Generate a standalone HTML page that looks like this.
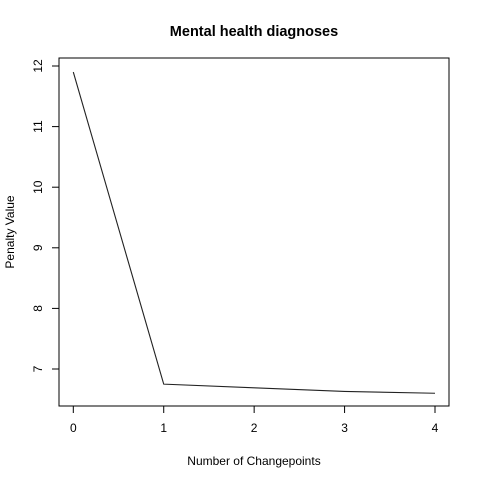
<!DOCTYPE html>
<html><head><meta charset="utf-8"><style>
body{margin:0;background:#fff}
svg{font-family:"Liberation Sans",Arial,sans-serif}
</style></head><body>
<svg id="chart" width="480" height="480" xmlns="http://www.w3.org/2000/svg">
<rect width="480" height="480" fill="#fff"/>
<text x="254" y="36" text-anchor="middle" font-size="14.5" font-weight="bold">Mental health diagnoses</text>
<text x="254" y="465" text-anchor="middle" font-size="12">Number of Changepoints</text>
<text transform="translate(14,232) rotate(-90)" text-anchor="middle" font-size="12">Penalty Value</text>
<rect x="59" y="58" width="390" height="348" fill="none" stroke="#000" stroke-width="1"/>
<g id="xaxis"></g>
<g id="yaxis"></g>
<g id="series"></g>
</svg>
<script>
const xValues=[0,1,2,3,4];
const yValues=[11.9,6.75,6.69,6.63,6.60];
const xTicks=[0,1,2,3,4];
const yTicks=[7,8,9,10,11,12];
const NS="http://www.w3.org/2000/svg";
function sx(v){return 73.3+(v-0)*(435-73.3)/4;}
function sy(v){return 369-(v-7)*(369-66)/5;}
function mk(t,a){const e=document.createElementNS(NS,t);for(const k in a)e.setAttribute(k,a[k]);return e;}
const xa=document.getElementById('xaxis');
xTicks.forEach(t=>{
 const l=mk('line',{x1:sx(t),x2:sx(t),y1:406,y2:413,stroke:'#000'});
 
 
 xa.appendChild(l);
 const tx=mk('text',{x:sx(t),y:432,'text-anchor':'middle','font-size':'12'});
 tx.textContent=t;
 
 
 xa.appendChild(tx);
});
const ya=document.getElementById('yaxis');
yTicks.forEach(t=>{
 const l=mk('line',{x1:52,x2:59,y1:sy(t),y2:sy(t),stroke:'#000'});
 
 
 ya.appendChild(l);
 const tx=mk('text',{'text-anchor':'middle','font-size':'12',transform:'translate(42,'+sy(t)+') rotate(-90)'});
 tx.textContent=t;
 
 
 ya.appendChild(tx);
});
const pts=xValues.map((x,i)=>sx(x)+','+sy(yValues[i])).join(' ');
const pl=mk('polyline',{points:pts,fill:'none',stroke:'#222','stroke-width':'1.1'});


document.getElementById('series').appendChild(pl);
</script>
</body></html>
